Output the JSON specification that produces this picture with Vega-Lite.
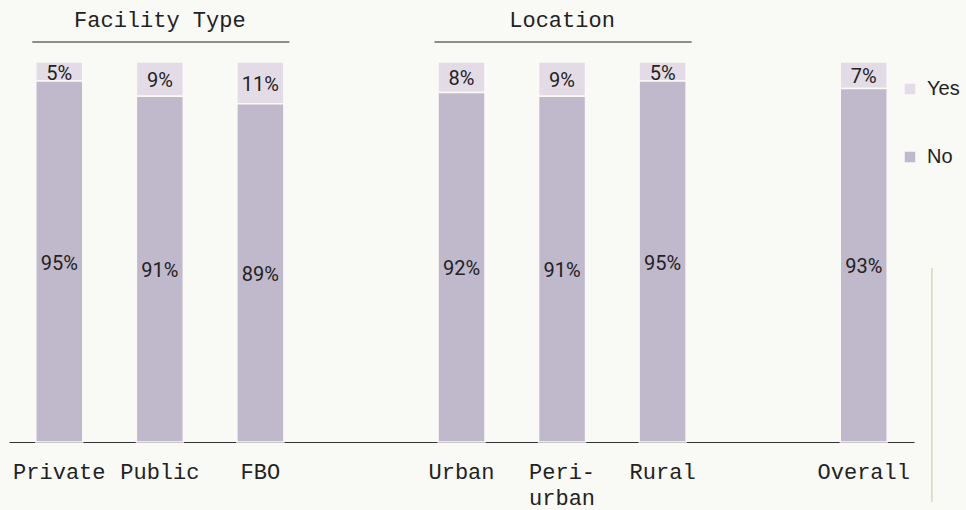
{
  "$schema": "https://vega.github.io/schema/vega-lite/v6.json",
  "width": 905,
  "height": 380,
  "autosize": {"type": "none"},
  "padding": {"left": 9, "top": 62, "right": 52, "bottom": 68},
  "background": "#f9f9f6",
  "config": {
    "view": {"stroke": null},
    "axis": {"grid": false}
  },
  "datasets": {
    "bars": [
      {"category": "Private", "response": "Yes", "share": 0.05},
      {"category": "Private", "response": "No", "share": 0.95},
      {"category": "Public", "response": "Yes", "share": 0.09},
      {"category": "Public", "response": "No", "share": 0.91},
      {"category": "FBO", "response": "Yes", "share": 0.11},
      {"category": "FBO", "response": "No", "share": 0.89},
      {"category": "Urban", "response": "Yes", "share": 0.08},
      {"category": "Urban", "response": "No", "share": 0.92},
      {"category": "Peri-urban", "response": "Yes", "share": 0.09},
      {"category": "Peri-urban", "response": "No", "share": 0.91},
      {"category": "Rural", "response": "Yes", "share": 0.05},
      {"category": "Rural", "response": "No", "share": 0.95},
      {"category": "Overall", "response": "Yes", "share": 0.07},
      {"category": "Overall", "response": "No", "share": 0.93}
    ],
    "groups": [
      {"group": "Facility Type", "category": "Public", "first": "Private", "last": "FBO"},
      {"group": "Location", "category": "Peri-urban", "first": "Urban", "last": "Rural"}
    ]
  },
  "layer": [
    {
      "data": {"name": "bars"},
      "mark": {"type": "bar", "stroke": "#f9f9f6", "strokeWidth": 1.5},
      "encoding": {
        "x": {
          "field": "category",
          "type": "nominal",
          "sort": null,
          "scale": {
            "domain": ["Private", "Public", "FBO", " ", "Urban", "Peri-urban", "Rural", "  ", "Overall"],
            "paddingInner": 0.533
          },
          "axis": {
            "title": null,
            "domainColor": "#333333",
            "domainWidth": 1.2,
            "ticks": false,
            "tickSize": 0,
            "labelFont": "Liberation Mono",
            "labelFontSize": 22,
            "labelColor": "#222222",
            "labelPadding": 36,
            "labelBaseline": "alphabetic",
            "labelAngle": 0,
            "labelLineHeight": 26,
            "labelOverlap": false,
            "labelExpr": "datum.value == 'Peri-urban' ? ['Peri-', 'urban'] : datum.value"
          }
        },
        "y": {
          "field": "share",
          "type": "quantitative",
          "stack": "zero",
          "scale": {"domain": [0, 1]},
          "axis": null
        },
        "color": {
          "field": "response",
          "type": "nominal",
          "scale": {"domain": ["Yes", "No"], "range": ["#e3dce6", "#c0b8cb"]},
          "legend": {
            "title": null,
            "orient": "none",
            "legendX": 891,
            "legendY": 17,
            "padding": 0,
            "symbolType": "square",
            "symbolSize": 110,
            "symbolStrokeWidth": 0,
            "labelFont": "Liberation Sans",
            "labelFontSize": 20,
            "labelColor": "#222222",
            "labelOffset": 7,
            "rowPadding": 48
          }
        },
        "order": {"field": "response", "sort": "ascending"}
      }
    },
    {
      "data": {"name": "bars"},
      "mark": {"type": "text", "font": "Roboto", "fontSize": 20, "color": "#222222", "baseline": "middle", "dy": 2},
      "encoding": {
        "x": {"field": "category", "type": "nominal", "sort": null},
        "y": {"field": "share", "type": "quantitative", "stack": "zero", "bandPosition": 0.5},
        "detail": {"field": "response"},
        "order": {"field": "response", "sort": "ascending"},
        "text": {"field": "share", "type": "quantitative", "format": ".0%"}
      }
    },
    {
      "data": {"name": "groups"},
      "mark": {"type": "text", "font": "Liberation Mono", "fontSize": 22, "color": "#222222", "baseline": "middle"},
      "encoding": {
        "x": {"field": "category", "type": "nominal", "sort": null},
        "y": {"datum": 1.1105, "type": "quantitative"},
        "text": {"field": "group"}
      }
    },
    {
      "data": {"name": "groups"},
      "mark": {"type": "rule", "color": "#222222", "strokeWidth": 1.2, "xOffset": -27, "x2Offset": 29},
      "encoding": {
        "x": {"field": "first", "type": "nominal", "sort": null},
        "x2": {"field": "last"},
        "y": {"datum": 1.0526, "type": "quantitative"}
      }
    },
    {
      "data": {"name": "groups"},
      "mark": {"type": "rule", "color": "#dcdcc6", "strokeWidth": 1.5, "xOffset": 68},
      "encoding": {
        "x": {"datum": "Overall", "type": "nominal"},
        "y": {"datum": 0.458, "type": "quantitative"},
        "y2": {"datum": -0.158}
      }
    }
  ]
}
